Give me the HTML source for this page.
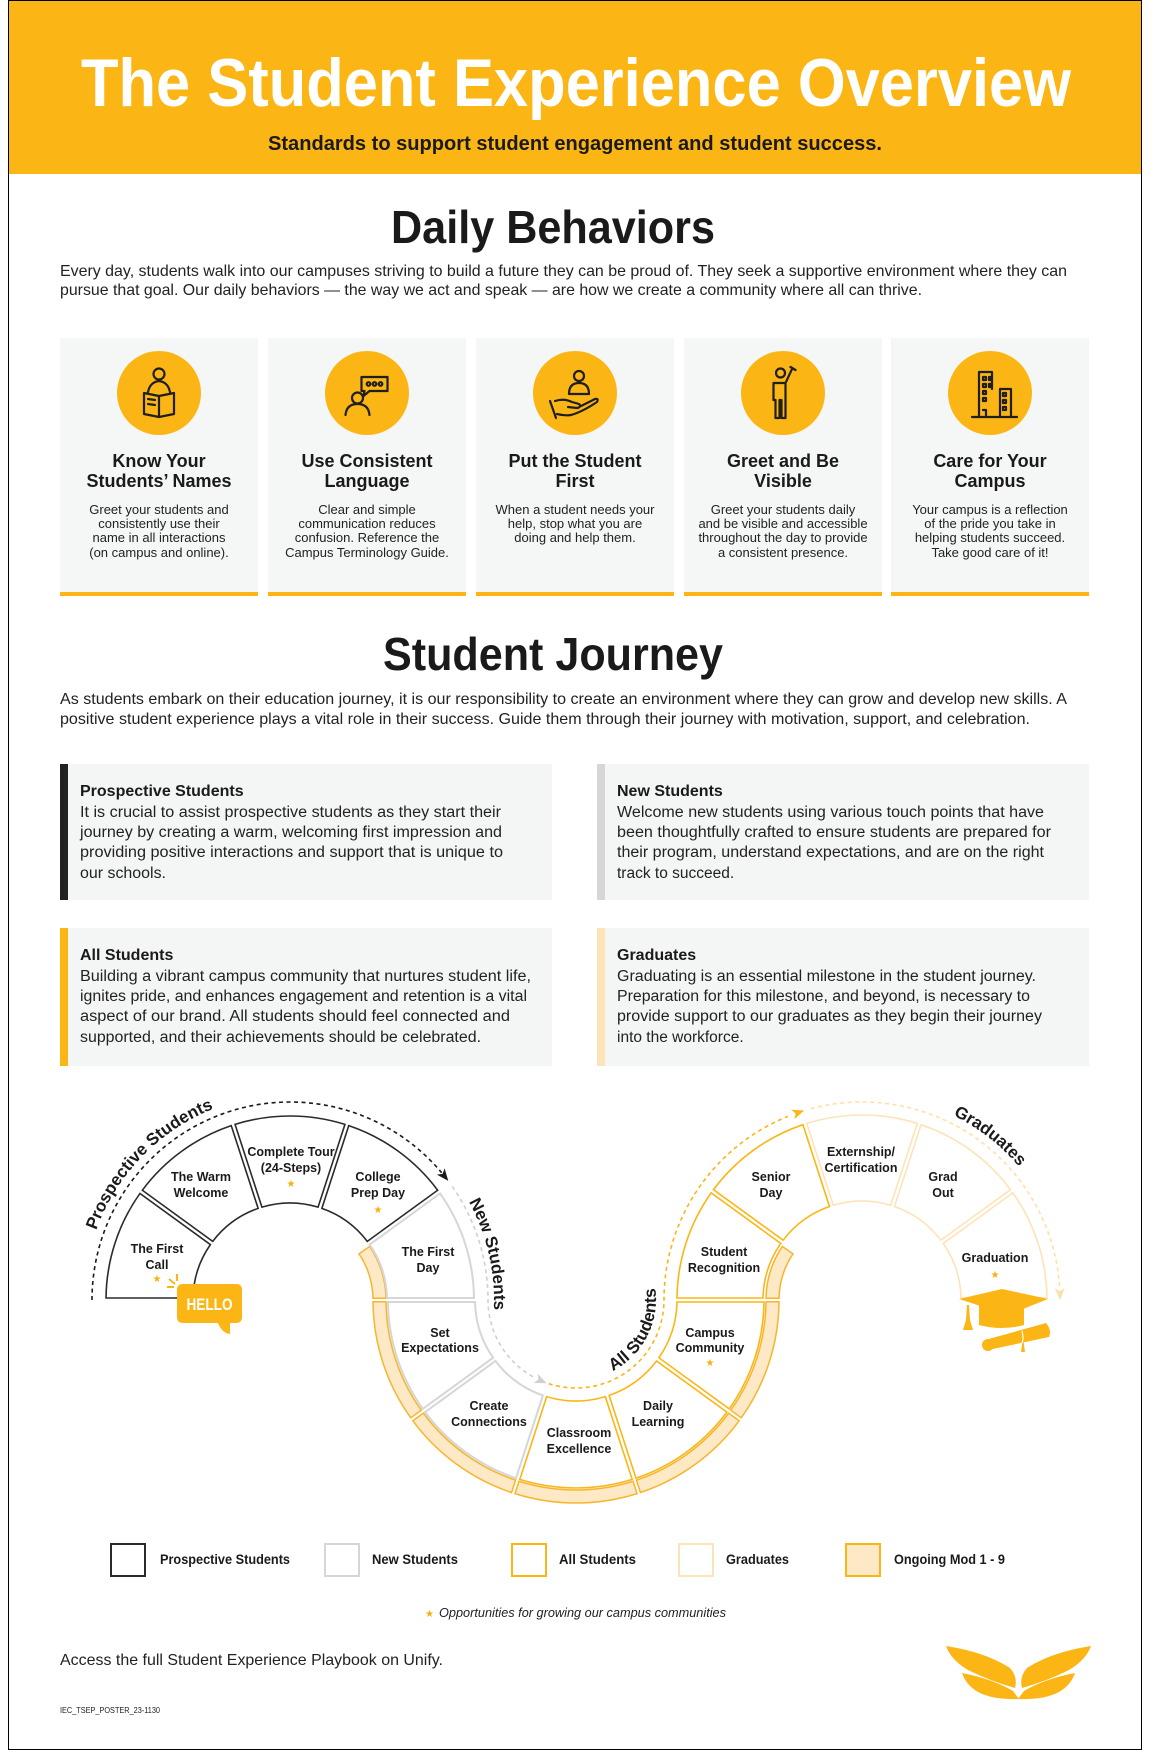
<!DOCTYPE html>
<html><head><meta charset="utf-8"><style>
html,body{margin:0;padding:0;background:#fff}
svg{display:block}
text{font-family:"Liberation Sans",Arial,sans-serif}
.b{font-weight:bold}
</style></head><body>
<svg id="root" width="1150" height="1750" viewBox="0 0 1150 1750" xmlns="http://www.w3.org/2000/svg">
<rect x="0" y="0" width="1150" height="1750" fill="#fff"/>
<rect x="8.5" y="0.5" width="1133" height="1749" fill="none" stroke="#000" stroke-width="1"/>
<rect x="9" y="1" width="1132" height="173" fill="#fbb615"/>
<text x="81" y="106" font-size="68" class="b" fill="#fff" textLength="990" lengthAdjust="spacingAndGlyphs">The Student Experience Overview</text>
<text x="268" y="150" font-size="20" class="b" fill="#1a1a1a" textLength="614" lengthAdjust="spacingAndGlyphs">Standards to support student engagement and student success.</text>

<text x="391" y="243" font-size="46" class="b" fill="#1a1a1a" textLength="324" lengthAdjust="spacingAndGlyphs">Daily Behaviors</text>
<g font-size="16" fill="#222">
<text x="60" y="276" textLength="1007" lengthAdjust="spacingAndGlyphs">Every day, students walk into our campuses striving to build a future they can be proud of. They seek a supportive environment where they can</text>
<text x="60" y="295" textLength="862" lengthAdjust="spacingAndGlyphs">pursue that goal. Our daily behaviors — the way we act and speak — are how we create a community where all can thrive.</text>
</g>

<!-- cards -->
<g id="cards">
<rect x="60" y="338" width="198" height="258" fill="#f5f6f6"/><rect x="60" y="592" width="198" height="4" fill="#fbb615"/>
<rect x="268" y="338" width="198" height="258" fill="#f5f6f6"/><rect x="268" y="592" width="198" height="4" fill="#fbb615"/>
<rect x="476" y="338" width="198" height="258" fill="#f5f6f6"/><rect x="476" y="592" width="198" height="4" fill="#fbb615"/>
<rect x="684" y="338" width="198" height="258" fill="#f5f6f6"/><rect x="684" y="592" width="198" height="4" fill="#fbb615"/>
<rect x="891" y="338" width="198" height="258" fill="#f5f6f6"/><rect x="891" y="592" width="198" height="4" fill="#fbb615"/>
<circle cx="159" cy="393" r="42" fill="#fbb615"/>
<circle cx="367" cy="393" r="42" fill="#fbb615"/>
<circle cx="575" cy="393" r="42" fill="#fbb615"/>
<circle cx="783" cy="393" r="42" fill="#fbb615"/>
<circle cx="990" cy="393" r="42" fill="#fbb615"/>
</g>
<g fill="none" stroke="#1f1f1f" stroke-width="2.2" stroke-linecap="round" stroke-linejoin="round">
 <circle cx="159" cy="374" r="5.5"/>
 <path d="M148,392 Q150,382 159,381 Q168,382 170,392"/>
 <path d="M144,393 L159,396 L174,393 L174,414 L159,417 L144,414 Z M159,396 L159,417"/>
 <path d="M148,399 L155,400 M148,404 L155,405"/>
 <circle cx="357.5" cy="398" r="5.5"/>
 <path d="M345.5,415 Q346.5,404 357.5,404 Q368.5,404 369.5,415"/>
 <path d="M361.5,377 L387.5,377 L387.5,391 L369.5,391 L363.5,396 L364.5,391 L361.5,391 Z"/>
 <circle cx="368.5" cy="384" r="1.8"/><circle cx="374.5" cy="384" r="1.8"/><circle cx="380.5" cy="384" r="1.8"/>
 <circle cx="579" cy="376" r="5"/>
 <path d="M569,394 Q569,383 579,383 Q589,383 589,394 Z"/>
 <path d="M550,401 L556,418 M555,401 Q564,398 572,402 L579,404 Q582,407 577,408 L568,407 M557,414 Q565,416 571,415 Q582,412 597,402 Q599,398 595,399 L581,406"/>
 <circle cx="780.5" cy="373" r="4.5"/>
 <path d="M773.5,383 L785.5,383 L792.5,368 M785.5,383 L785.5,418 L781.5,418 L781.5,400 L779.5,400 L779.5,418 L775.5,418 L775.5,400 L773.5,400 L773.5,383 M790.5,367 L795.5,370"/>
 <path d="M979,372 L979,417 L1009,417 M1000,417 L1000,389 L1011,389 L1011,417 M979,372 L992,372 L992,389 M972,417 L1017,417"/>
 <path d="M983,377h3v3h-3z M989,377h2v3h-2z M983,384h3v3h-3z M989,384h2v3h-2z M983,391h3v3h-3z M983,398h3v3h-3z M1003,393h3v3h-3z M1003,400h3v3h-3z M1003,407h3v3h-3z M983,410h3v7"/>
</g>
<g font-size="18" class="b" fill="#1a1a1a" text-anchor="middle">
<text x="159" y="467">Know Your</text><text x="159" y="487">Students’ Names</text>
<text x="367" y="467">Use Consistent</text><text x="367" y="487">Language</text>
<text x="575" y="467">Put the Student</text><text x="575" y="487">First</text>
<text x="783" y="467">Greet and Be</text><text x="783" y="487">Visible</text>
<text x="990" y="467">Care for Your</text><text x="990" y="487">Campus</text>
</g>
<g font-size="13" fill="#222" text-anchor="middle">
<text x="159" y="514">Greet your students and</text><text x="159" y="528">consistently use their</text><text x="159" y="542">name in all interactions</text><text x="159" y="557">(on campus and online).</text>
<text x="367" y="514">Clear and simple</text><text x="367" y="528">communication reduces</text><text x="367" y="542">confusion. Reference the</text><text x="367" y="557">Campus Terminology Guide.</text>
<text x="575" y="514">When a student needs your</text><text x="575" y="528">help, stop what you are</text><text x="575" y="542">doing and help them.</text>
<text x="783" y="514">Greet your students daily</text><text x="783" y="528">and be visible and accessible</text><text x="783" y="542">throughout the day to provide</text><text x="783" y="557">a consistent presence.</text>
<text x="990" y="514">Your campus is a reflection</text><text x="990" y="528">of the pride you take in</text><text x="990" y="542">helping students succeed.</text><text x="990" y="557">Take good care of it!</text>
</g>

<text x="383" y="670" font-size="46" class="b" fill="#1a1a1a" textLength="340" lengthAdjust="spacingAndGlyphs">Student Journey</text>
<g font-size="16" fill="#222">
<text x="60" y="704" textLength="1007" lengthAdjust="spacingAndGlyphs">As students embark on their education journey, it is our responsibility to create an environment where they can grow and develop new skills. A</text>
<text x="60" y="724" textLength="970" lengthAdjust="spacingAndGlyphs">positive student experience plays a vital role in their success. Guide them through their journey with motivation, support, and celebration.</text>
</g>

<rect x="60" y="764" width="492" height="136" fill="#f4f5f5"/><rect x="60" y="764" width="8" height="136" fill="#222"/>
<rect x="597" y="764" width="492" height="136" fill="#f4f5f5"/><rect x="597" y="764" width="8" height="136" fill="#d6d6d6"/>
<rect x="60" y="928" width="492" height="138" fill="#f4f5f5"/><rect x="60" y="928" width="8" height="138" fill="#fbb615"/>
<rect x="597" y="928" width="492" height="138" fill="#f4f5f5"/><rect x="597" y="928" width="8" height="138" fill="#fde4b8"/>
<g font-size="16" class="b" fill="#1a1a1a">
<text x="80" y="796">Prospective Students</text>
<text x="617" y="796">New Students</text>
<text x="80" y="960">All Students</text>
<text x="617" y="960">Graduates</text>
</g>
<g font-size="15.5" fill="#222">
<text x="80" y="817" textLength="421" lengthAdjust="spacingAndGlyphs">It is crucial to assist prospective students as they start their</text>
<text x="80" y="837" textLength="422" lengthAdjust="spacingAndGlyphs">journey by creating a warm, welcoming first impression and</text>
<text x="80" y="857" textLength="423" lengthAdjust="spacingAndGlyphs">providing positive interactions and support that is unique to</text>
<text x="80" y="878" textLength="86" lengthAdjust="spacingAndGlyphs">our schools.</text>
<text x="617" y="817" textLength="427" lengthAdjust="spacingAndGlyphs">Welcome new students using various touch points that have</text>
<text x="617" y="837" textLength="434" lengthAdjust="spacingAndGlyphs">been thoughtfully crafted to ensure students are prepared for</text>
<text x="617" y="857" textLength="427" lengthAdjust="spacingAndGlyphs">their program, understand expectations, and are on the right</text>
<text x="617" y="878">track to succeed.</text>
<text x="80" y="981" textLength="451" lengthAdjust="spacingAndGlyphs">Building a vibrant campus community that nurtures student life,</text>
<text x="80" y="1001" textLength="447" lengthAdjust="spacingAndGlyphs">ignites pride, and enhances engagement and retention is a vital</text>
<text x="80" y="1021" textLength="430" lengthAdjust="spacingAndGlyphs">aspect of our brand. All students should feel connected and</text>
<text x="80" y="1042" textLength="401" lengthAdjust="spacingAndGlyphs">supported, and their achievements should be celebrated.</text>
<text x="617" y="981" textLength="419" lengthAdjust="spacingAndGlyphs">Graduating is an essential milestone in the student journey.</text>
<text x="617" y="1001" textLength="413" lengthAdjust="spacingAndGlyphs">Preparation for this milestone, and beyond, is necessary to</text>
<text x="617" y="1021" textLength="425" lengthAdjust="spacingAndGlyphs">provide support to our graduates as they begin their journey</text>
<text x="617" y="1042">into the workforce.</text>
</g>

<defs id="defs"></defs>
<g id="diag"></g>

<g font-size="12.5" class="b" fill="#1a1a1a" text-anchor="middle">
<text x="157" y="1253">The First</text><text x="157" y="1269">Call</text>
<text x="201" y="1181">The Warm</text><text x="201" y="1197">Welcome</text>
<text x="291" y="1156">Complete Tour</text><text x="291" y="1172">(24-Steps)</text>
<text x="378" y="1181">College</text><text x="378" y="1197">Prep Day</text>
<text x="428" y="1256">The First</text><text x="428" y="1272">Day</text>
<text x="440" y="1337">Set</text><text x="440" y="1352">Expectations</text>
<text x="489" y="1410">Create</text><text x="489" y="1426">Connections</text>
<text x="579" y="1437">Classroom</text><text x="579" y="1453">Excellence</text>
<text x="658" y="1410">Daily</text><text x="658" y="1426">Learning</text>
<text x="710" y="1337">Campus</text><text x="710" y="1352">Community</text>
<text x="724" y="1256">Student</text><text x="724" y="1272">Recognition</text>
<text x="771" y="1181">Senior</text><text x="771" y="1197">Day</text>
<text x="861" y="1156">Externship/</text><text x="861" y="1172">Certification</text>
<text x="943" y="1181">Grad</text><text x="943" y="1197">Out</text>
<text x="995" y="1262">Graduation</text>
</g>
<g font-size="10" fill="#f5b20f" text-anchor="middle">
<text x="157" y="1282">★</text><text x="291" y="1187">★</text><text x="378" y="1213">★</text>
<text x="710" y="1366">★</text><text x="995" y="1278">★</text>
</g>
<g>
<path d="M183,1284 L236,1284 Q242,1284 242,1290 L242,1317 Q242,1323 236,1323 L230,1323 L230,1334 Q222,1333 218,1323 L183,1323 Q177,1323 177,1317 L177,1290 Q177,1284 183,1284 Z" fill="#fbb615"/>
<text x="209.5" y="1310" font-size="17" class="b" fill="#fff" text-anchor="middle" textLength="46" lengthAdjust="spacingAndGlyphs">HELLO</text>
<path d="M167,1287 L174,1287 M169,1279 L175,1284 M177,1274 L177,1281" stroke="#fbb615" stroke-width="2" fill="none"/>
</g>
<g fill="#fbb615">
<path d="M979,1305 L1024,1305 L1024,1325 Q1002,1331 979,1325 Z"/>
<path d="M959,1299 L1002,1289 L1048,1299 L1008,1315 Z"/>
<path d="M967,1305 L969,1305 L970,1320 L973,1330 L963,1330 L966,1320 Z"/>
<path d="M985,1340 L1046,1323 Q1052,1330 1049,1337 L988,1350 Q980,1348 985,1340 Z"/>
<circle cx="988" cy="1345" r="6"/>
<path d="M1023,1338 L1025,1352 L1021,1352 Z"/>
</g>
<path d="M1022,1331 Q1024,1339 1022,1343" stroke="#fff" stroke-width="1.2" fill="none"/>

<rect x="111" y="1544" width="34" height="32" fill="none" stroke="#2b2b2b" stroke-width="2"/>
<rect x="325" y="1544" width="34" height="32" fill="none" stroke="#d6d6d6" stroke-width="2"/>
<rect x="512" y="1544" width="34" height="32" fill="none" stroke="#fbb615" stroke-width="2"/>
<rect x="679" y="1544" width="34" height="32" fill="none" stroke="#fde4b8" stroke-width="2"/>
<rect x="846" y="1544" width="34" height="32" fill="#fde9c6" stroke="#fbb615" stroke-width="2"/>
<g font-size="13.5" class="b" fill="#1a1a1a">
<text x="160" y="1564" textLength="130" lengthAdjust="spacingAndGlyphs">Prospective Students</text>
<text x="372" y="1564" textLength="86" lengthAdjust="spacingAndGlyphs">New Students</text>
<text x="559" y="1564" textLength="77" lengthAdjust="spacingAndGlyphs">All Students</text>
<text x="726" y="1564" textLength="63" lengthAdjust="spacingAndGlyphs">Graduates</text>
<text x="894" y="1564" textLength="111" lengthAdjust="spacingAndGlyphs">Ongoing Mod 1 - 9</text>
</g>
<text x="425" y="1617" font-size="10" fill="#f5b20f">★</text>
<text x="439" y="1617" font-size="13" font-style="italic" fill="#222" textLength="287" lengthAdjust="spacingAndGlyphs">Opportunities for growing our campus communities</text>
<text x="60" y="1665" font-size="16" fill="#222" textLength="383" lengthAdjust="spacingAndGlyphs">Access the full Student Experience Playbook on Unify.</text>
<text x="60" y="1713" font-size="8" fill="#222" textLength="100" lengthAdjust="spacingAndGlyphs">IEC_TSEP_POSTER_23-1130</text>
<g fill="#fbb615">
<path d="M946,1646 Q985,1652 1010,1668 Q1018,1677 1015,1688 Q990,1681 968,1670 Q951,1660 946,1646 Z"/>
<path d="M1091,1646 Q1052,1652 1027,1668 Q1019,1677 1022,1688 Q1047,1681 1069,1670 Q1086,1660 1091,1646 Z"/>
<path d="M962,1673 Q993,1679 1013,1691 L1019,1699 Q993,1700 978,1692 Q966,1685 962,1673 Z"/>
<path d="M1075,1673 Q1044,1679 1024,1691 L1018,1699 Q1044,1700 1059,1692 Q1071,1685 1075,1673 Z"/>
</g>
</svg>
<script>
(function(){
var NS='http://www.w3.org/2000/svg';
var g=document.getElementById('diag'), defs=document.getElementById('defs');
function P(c,r,a){var t=a*Math.PI/180;return [c[0]+r*Math.cos(t), c[1]-r*Math.sin(t)];}
function f(p){return p[0].toFixed(2)+','+p[1].toFixed(2);}
function el(n,at,par){var e=document.createElementNS(NS,n);for(var k in at)e.setAttribute(k,at[k]);(par||g).appendChild(e);return e;}
function sector(c,r1,r2,a1,a2,stroke,fill,sw,d){
  var o1=a1+Math.asin(d/r2)*180/Math.PI, i1=a1+Math.asin(d/r1)*180/Math.PI;
  var o2=a2-Math.asin(d/r2)*180/Math.PI, i2=a2-Math.asin(d/r1)*180/Math.PI;
  var p1=P(c,r2,o1),p2=P(c,r2,o2),p3=P(c,r1,i2),p4=P(c,r1,i1);
  var dd='M'+f(p1)+' A'+r2+','+r2+' 0 0 0 '+f(p2)+' L'+f(p3)+' A'+r1+','+r1+' 0 0 1 '+f(p4)+' Z';
  el('path',{d:dd,fill:fill,stroke:stroke,'stroke-width':sw,'stroke-linejoin':'miter'});
}
var L=[290,1300],Lo=[576,1300],R=[862,1300];
var PK='#2b2b2b',NW='#d6d6d6',AL='#fbb615',GR='#fde4b8',BF='#fde9c6',BS='#f7b52c';
[[L,83,96,0,35],[R,83,96,145,180],[Lo,190,203,180,216],[Lo,190,203,216,252],[Lo,190,203,252,288],[Lo,190,203,288,324],[Lo,190,203,324,360]].forEach(function(s){sector(s[0],s[1],s[2],s[3],s[4],BS,BF,1.5,1.8);});
[[144,180,PK],[108,144,PK],[72,108,PK],[36,72,PK],[0,36,NW]].forEach(function(s){sector(L,97,184,s[0],s[1],s[2],'#fff',s[2]==NW?2:1.6,2);});
[[180,216,NW],[216,252,NW],[252,288,AL],[288,324,AL],[324,360,AL]].forEach(function(s){sector(Lo,101,188,s[0],s[1],s[2],'#fff',s[2]==NW?2:1.6,2);});
[[144,180,AL],[108,144,AL],[72,108,GR],[36,72,GR],[0,36,GR]].forEach(function(s){sector(R,99,185,s[0],s[1],s[2],'#fff',1.6,2);});
function arc(c,r,a1,a2){var p1=P(c,r,a1),p2=P(c,r,a2);var sweep=a2>a1?0:1;var large=Math.abs(a2-a1)>180?1:0;return {m:'M'+f(p1),a:' A'+r+','+r+' 0 '+large+' '+sweep+' '+f(p2)};}
function dpath(parts,col){var d='';parts.forEach(function(p,i){var a=arc(p[0],p[1],p[2],p[3]);d+=(i==0?a.m:' L'+f(P(p[0],p[1],p[2])))+a.a;});el('path',{d:d,fill:'none',stroke:col,'stroke-width':1.6,'stroke-dasharray':'4 3.5'});}
function arrow(c,r,a,dec,col){var p=P(c,r,a),t=a*Math.PI/180;var dx=dec?Math.sin(t):-Math.sin(t),dy=dec?Math.cos(t):-Math.cos(t);var px=-dy,py=dx;
  var tip=[p[0]+dx*7,p[1]+dy*7],b1=[p[0]-dx*5+px*5,p[1]-dy*5+py*5],b2=[p[0]-dx*5-px*5,p[1]-dy*5-py*5],m=[p[0]-dx*2,p[1]-dy*2];
  el('path',{d:'M'+f(tip)+' L'+f(b1)+' L'+f(m)+' L'+f(b2)+' Z',fill:col});}
dpath([[L,198,180,40]],'#1a1a1a'); arrow(L,198,39,true,'#1a1a1a');
dpath([[L,198,35,0],[Lo,88,180,243]],'#cfcfcf'); arrow(Lo,88,246,false,'#cfcfcf');
dpath([[Lo,88,252,360],[R,198,180,112]],'#fbb615'); arrow(R,198,109,true,'#fbb615');
dpath([[R,198,105,4]],'#fde0a8'); arrow(R,198,2,true,'#fde0a8');
function tp(id,c,r,a1,a2,txt,size){var a=arc(c,r,a1,a2);el('path',{id:id,d:a.m+a.a,fill:'none'},defs);
  var t=el('text',{'font-size':size,'font-weight':'bold',fill:'#1a1a1a','text-anchor':'middle','font-family':'"Liberation Sans",Arial,sans-serif'});
  var q=el('textPath',{href:'#'+id,startOffset:'50%'},t);q.setAttributeNS('http://www.w3.org/1999/xlink','xlink:href','#'+id);q.textContent=txt;}
tp('tpP',L,206,182,90,'Prospective Students',17);
tp('tpN',L,204,48,-22,'New Students',17);
tp('tpA',Lo,80,-80,26,'All Students',17);
tp('tpG',R,206,90,14,'Graduates',17);
})();
</script>
</body></html>
